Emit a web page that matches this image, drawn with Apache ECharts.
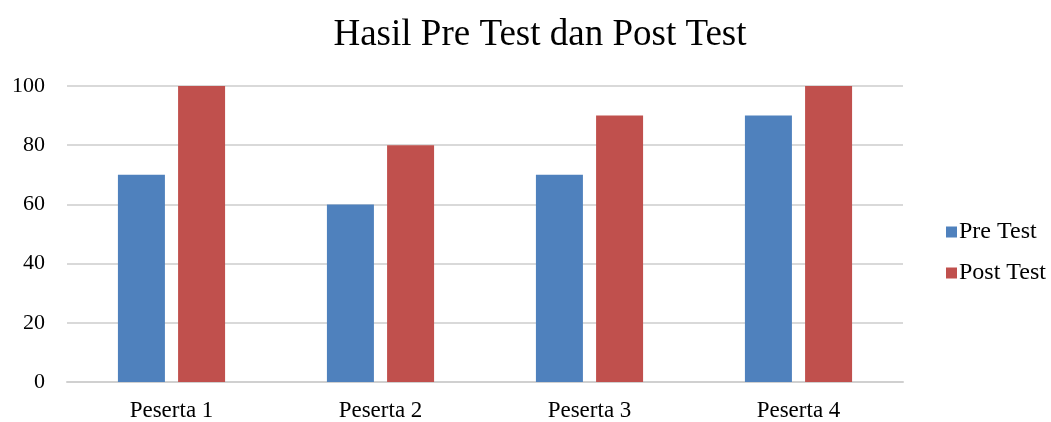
<!DOCTYPE html>
<html><head><meta charset="utf-8">
<script src="https://cdn.jsdelivr.net/npm/echarts@6/dist/echarts.min.js"></script>
<style>html,body{margin:0;padding:0;background:#fff}#c{width:1051px;height:422px}</style>
</head><body><div id="c"></div>
<script>
const categories = ['Peserta 1','Peserta 2','Peserta 3','Peserta 4'];
const preTest = [70, 60, 70, 90];
const postTest = [100, 80, 90, 100];
const yTicks = {min: 0, max: 100, interval: 20};
const font = "'Liberation Serif','Times New Roman',serif";
const chart = echarts.init(document.getElementById('c'), null, {renderer:'canvas'});
chart.setOption({
  animation: false,
  backgroundColor: '#fff',
  title: {text: 'Hasil Pre Test dan Post Test', left: 535, textAlign: 'center', top: 12,
    textStyle: {fontFamily: font, fontSize: 37, fontWeight: 'normal', color: '#000'}},
  legend: {orient: 'vertical', left: 941, top: 215, itemWidth: 11, itemHeight: 11, itemGap: 17,
    icon: 'rect', textStyle: {fontFamily: font, fontSize: 24, color: '#000', padding:[0,0,0,-3]}},
  grid: {left: 67, right: 148, top: 86, bottom: 38, containLabel: false},
  xAxis: {type: 'category', data: categories,
    axisLine: {lineStyle: {color: '#d0d0d0', width: 2}}, axisTick: {show: false},
    axisLabel: {fontFamily: font, fontSize: 23, color: '#000', margin: 17}},
  yAxis: {type: 'value', min: yTicks.min, max: yTicks.max, interval: yTicks.interval,
    axisLine: {show: false}, axisTick: {show: false},
    splitLine: {lineStyle: {color: '#d9d9d9', width: 2}},
    axisLabel: {fontFamily: font, fontSize: 22, color: '#000', margin: 22}},
  series: [
    {name: 'Pre Test', type: 'bar', data: preTest, barWidth: 47, barGap: '28%', itemStyle: {color: '#4F81BD'}},
    {name: 'Post Test', type: 'bar', data: postTest, barWidth: 47, itemStyle: {color: '#C0504D'}}
  ]
});
</script></body></html>
